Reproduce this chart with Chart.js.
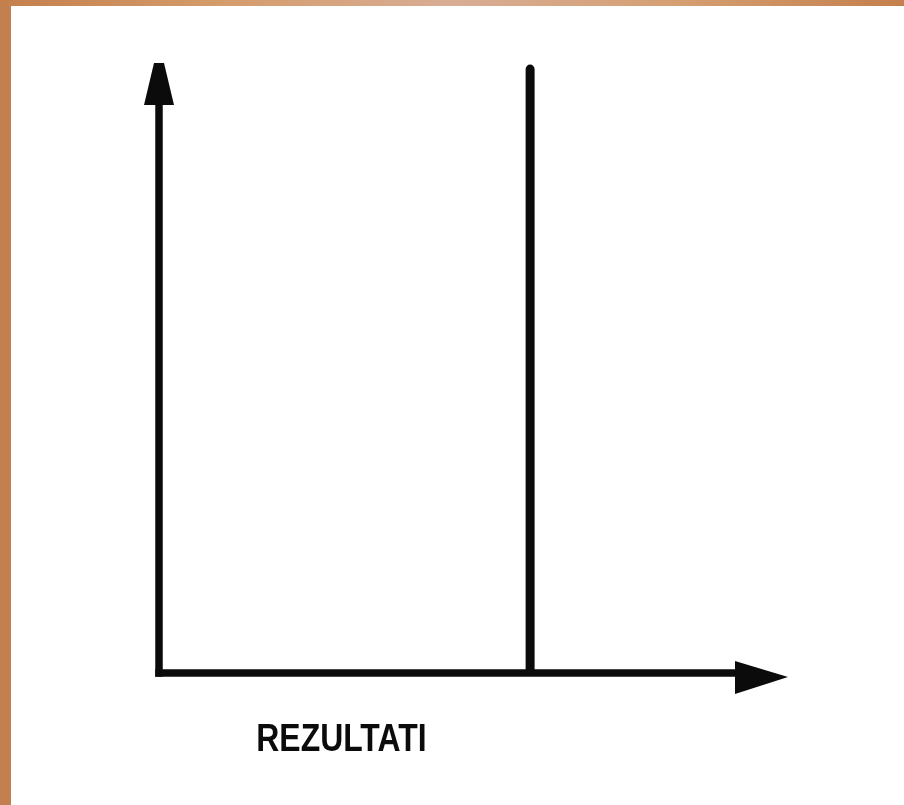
<!DOCTYPE html>
<html>
<head>
<meta charset="utf-8">
<script src="https://cdn.jsdelivr.net/npm/chart.js@4"></script>
<style>
  html, body { margin: 0; padding: 0; background: #fff; }
  #wrap { position: relative; width: 904px; height: 805px; overflow: hidden; background: #fff; }
  #leftStrip { position: absolute; left: 0; top: 0; width: 11px; height: 805px; background: #c27f4f; }
  #topStrip { position: absolute; left: 0; top: 0; width: 904px; height: 6px;
    background: linear-gradient(to right, #c47f4c, #d59c6c 25%, #d8ad95 50%, #d59f72 75%, #c47f4c); }
  canvas { position: absolute; left: 0; top: 0; }
</style>
</head>
<body>
<div id="wrap">
  <div id="leftStrip"></div>
  <div id="topStrip"></div>
  <canvas id="chart" width="904" height="805"></canvas>
</div>
<script>
'use strict'

// axis ranges (arbitrary units, no ticks in the original)
let xRange = [0, 10];
let yRange = [0, 10];

// the single result marker: a vertical line from the axis up
let resultX = [5.9, 5.9];
let resultY = [0, 9.9];

// axis caption and where it sits along x
let xLabel = 'REZULTATI';
let xLabelAt = 2.9;

let ink = '#0b0b0b';

// draws the two axes with arrowheads
const arrowAxes = {
    id: 'arrowAxes',
    afterDatasetsDraw(chart) {
        const ctx = chart.ctx;
        const a = chart.chartArea;
        ctx.save();
        ctx.strokeStyle = ink;
        ctx.fillStyle = ink;
        ctx.lineWidth = 7.5;
        ctx.lineCap = 'square';

        // y axis shaft
        ctx.beginPath();
        ctx.moveTo(a.left, a.bottom);
        ctx.lineTo(a.left, a.top + 40);
        ctx.stroke();
        // x axis shaft
        ctx.beginPath();
        ctx.moveTo(a.left, a.bottom);
        ctx.lineTo(a.right - 50, a.bottom);
        ctx.stroke();

        // y arrowhead
        ctx.beginPath();
        ctx.moveTo(a.left - 5, a.top);
        ctx.lineTo(a.left + 5, a.top);
        ctx.lineTo(a.left + 15, a.top + 42);
        ctx.lineTo(a.left - 15, a.top + 42);
        ctx.closePath();
        ctx.fill();

        // x arrowhead
        ctx.beginPath();
        ctx.moveTo(a.right, a.bottom + 4);
        ctx.lineTo(a.right - 53, a.bottom - 12);
        ctx.lineTo(a.right - 53, a.bottom + 21);
        ctx.closePath();
        ctx.fill();
        ctx.restore();
    }
};

// the caption is a narrow bold face in the original; squeeze it a bit
const axisCaption = {
    id: 'axisCaption',
    afterDraw(chart) {
        const ctx = chart.ctx;
        const x = chart.scales.x.getPixelForValue(xLabelAt);
        const y = chart.chartArea.bottom + 68;
        ctx.save();
        ctx.translate(x, y);
        ctx.scale(0.84, 1);
        ctx.font = 'bold 38px "Liberation Sans", Arial, sans-serif';
        ctx.fillStyle = ink;
        ctx.textAlign = 'center';
        ctx.textBaseline = 'middle';
        ctx.fillText(xLabel, 0, 0);
        ctx.restore();
    }
};

let points = [];
for (let i = 0; i < resultX.length; i++) {
    points.push({x: resultX[i], y: resultY[i]});
}

const data = {
    datasets: [{
        label: 'rezultat',
        data: points,
        borderColor: ink,
        borderWidth: 9,
        borderCapStyle: 'round',
        pointRadius: 0,
        showLine: true,
        fill: false
    }]
};

const config = {
    type: 'scatter',
    data: data,
    options: {
        responsive: false,
        animation: false,
        layout: {
            padding: {left: 159, top: 63, right: 116, bottom: 0}
        },
        plugins: {
            legend: { display: false },
            tooltip: { enabled: false }
        },
        scales: {
            x: {
                type: 'linear',
                min: xRange[0],
                max: xRange[1],
                grid: { display: false, drawTicks: false },
                border: { display: false },
                ticks: { display: false },
                afterFit(scale) { scale.height = 132; }
            },
            y: {
                type: 'linear',
                min: yRange[0],
                max: yRange[1],
                grid: { display: false, drawTicks: false },
                border: { display: false },
                ticks: { display: false },
                afterFit(scale) { scale.width = 0; }
            }
        }
    },
    plugins: [arrowAxes, axisCaption]
};

let canvas = document.getElementById('chart');
const chart = new Chart(canvas, config);
</script>
</body>
</html>
